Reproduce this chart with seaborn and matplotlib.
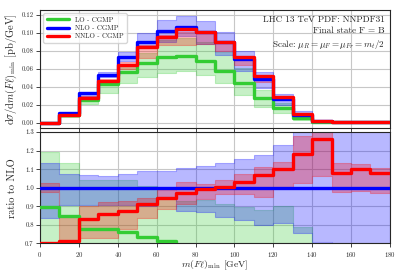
import numpy as np
import pandas as pd
import matplotlib
matplotlib.use("Agg")
import matplotlib.pyplot as plt
import seaborn as sns

# ---- data ----
bin_edges = [0, 10, 20, 30, 40, 50, 60, 70, 80, 90, 100, 110, 120, 130, 140, 150, 160, 170, 180]

lo_central = [0.0, 0.008, 0.025, 0.0428, 0.0558, 0.066, 0.0725, 0.0736, 0.0688, 0.0576, 0.0439, 0.0279, 0.0167, 0.0056, 0.0010, 0.0004, 0.0003, 0.0003]
nlo_central = [0.0, 0.0112, 0.0327, 0.0532, 0.0725, 0.0892, 0.1022, 0.1068, 0.1007, 0.0892, 0.0710, 0.0487, 0.0264, 0.0086, 0.0012, 0.0005, 0.0004, 0.0004]
nnlo_central = [0.0, 0.0086, 0.0279, 0.0465, 0.0643, 0.0836, 0.0955, 0.1043, 0.1012, 0.0895, 0.0725, 0.0515, 0.0283, 0.0100, 0.0015, 0.0006, 0.0005, 0.0005]

lo_band_lo = [0.0, 0.006, 0.0204, 0.0327, 0.044, 0.051, 0.055, 0.057, 0.053, 0.044, 0.031, 0.0178, 0.0104, 0.003, 0.0003, 0.0001, 0.0001, 0.0001]
lo_band_hi = [0.0, 0.010, 0.029, 0.0465, 0.064, 0.077, 0.092, 0.094, 0.090, 0.079, 0.0606, 0.0364, 0.0216, 0.008, 0.0012, 0.0004, 0.0004, 0.0004]
nlo_band_lo = [0.0, 0.009, 0.030, 0.051, 0.068, 0.083, 0.090, 0.096, 0.087, 0.0755, 0.057, 0.038, 0.0197, 0.0065, 0.0008, 0.0003, 0.0003, 0.0003]
nlo_band_hi = [0.0, 0.012, 0.034, 0.056, 0.079, 0.0996, 0.1145, 0.119, 0.113, 0.1007, 0.080, 0.0558, 0.0316, 0.0125, 0.0020, 0.0008, 0.0008, 0.0008]
nnlo_band_lo = [0.0, 0.0075, 0.026, 0.044, 0.060, 0.0717, 0.086, 0.0866, 0.088, 0.080, 0.064, 0.045, 0.025, 0.0085, 0.0013, 0.0004, 0.0004, 0.0004]
nnlo_band_hi = [0.0, 0.0085, 0.030, 0.049, 0.067, 0.0866, 0.098, 0.1007, 0.101, 0.091, 0.074, 0.052, 0.030, 0.011, 0.0017, 0.0006, 0.0006, 0.0006]

# ratio panel (to NLO)
lo_ratio = [0.895, 0.848, 0.780, 0.780, 0.762, 0.736, 0.712, 0.69, 0.68, 0.65, 0.62, 0.57, 0.63, 0.65, 0.6, 0.6, 0.6, 0.6]
nlo_ratio = [1.0] * 18
nnlo_ratio = [0.703, 0.712, 0.829, 0.857, 0.876, 0.912, 0.943, 0.969, 0.993, 1.006, 1.032, 1.068, 1.100, 1.184, 1.260, 1.078, 1.100, 1.077]

lo_rband_lo = [0.60, 0.60, 0.60, 0.60, 0.60, 0.60, 0.60, 0.60, 0.60, 0.60, 0.60, 0.60, 0.60, 0.60, 0.60, 0.60, 0.60, 0.60]
lo_rband_hi = [1.193, 1.132, 1.041, 1.040, 1.041, 1.010, 0.950, 0.930, 0.933, 0.911, 0.898, 0.880, 0.900, 0.790, 0.60, 0.60, 0.60, 0.60]
nlo_rband_lo = [0.838, 0.905, 0.905, 0.905, 0.905, 0.900, 0.950, 0.875, 0.867, 0.843, 0.825, 0.800, 0.810, 0.757, 0.705, 0.69, 0.69, 0.69]
nlo_rband_hi = [1.135, 1.072, 1.068, 1.063, 1.076, 1.090, 1.090, 1.108, 1.118, 1.133, 1.157, 1.178, 1.230, 1.35, 1.35, 1.35, 1.35, 1.35]
nnlo_rband_lo = [0.977, 0.60, 0.730, 0.730, 0.778, 0.838, 0.885, 0.910, 0.940, 0.965, 0.965, 0.950, 1.000, 1.025, 1.062, 0.978, 0.980, 0.972]
nnlo_rband_hi = [1.027, 0.843, 0.900, 0.922, 0.928, 0.946, 0.990, 1.030, 1.022, 1.040, 1.072, 1.112, 1.138, 1.280, 1.35, 1.132, 1.130, 1.108]

labels = ["LO - CGMP", "NLO - CGMP", "NNLO - CGMP"]
colors = ["#33cc33", "#0000ff", "#ff0000"]

# ---- style ----
sns.set_style("ticks")
plt.rcParams["font.family"] = ["cmr10", "DejaVu Serif"]
plt.rcParams["mathtext.fontset"] = "cm"
plt.rcParams["axes.formatter.use_mathtext"] = True
plt.rcParams["axes.unicode_minus"] = False


def stepify(vals):
    return list(vals) + [vals[-1]]


def step_frame(vals, name):
    return pd.DataFrame({"x": bin_edges, "y": stepify(vals), "series": name})


fig = plt.figure(figsize=(4.07, 2.71), dpi=100)
ax1 = fig.add_axes([0.0983, 0.5295, 0.8597, 0.4335])
ax2 = fig.add_axes([0.0983, 0.1020, 0.8597, 0.4110])

# ---- top panel ----
bands_top = [(lo_band_lo, lo_band_hi), (nlo_band_lo, nlo_band_hi), (nnlo_band_lo, nnlo_band_hi)]
for (blo, bhi), c in zip(bands_top, colors):
    ax1.fill_between(bin_edges, stepify(blo), stepify(bhi), step="post",
                     color=c, alpha=0.28, linewidth=0.8, zorder=2)

top_df = pd.concat([step_frame(lo_central, labels[0]),
                    step_frame(nlo_central, labels[1]),
                    step_frame(nnlo_central, labels[2])])
sns.lineplot(data=top_df, x="x", y="y", hue="series", palette=colors,
             hue_order=labels, drawstyle="steps-post", linewidth=2.4,
             ax=ax1, zorder=3, estimator=None, sort=False)

ax1.set_xlim(0, 180)
ax1.set_ylim(-0.0055, 0.1253)
ax1.set_xticks(range(0, 181, 20))
ax1.set_xticklabels([])
ax1.set_yticks([0.0, 0.02, 0.04, 0.06, 0.08, 0.10, 0.12])
ax1.set_yticklabels(["0.00", "0.02", "0.04", "0.06", "0.08", "0.10", "0.12"])
ax1.set_xlabel("")
ax1.set_ylabel(r"$\mathrm{d}\sigma/\mathrm{d}m(F\ell)_{\min}$ [pb/GeV]", fontsize=7.5, labelpad=2)
ax1.grid(True, color="0.78", linewidth=0.8)
leg = ax1.legend(loc="upper left", fontsize=5, handlelength=3.2, frameon=True,
                 borderpad=0.5, labelspacing=0.35, fancybox=True)
for h in leg.get_lines():
    h.set_linewidth(2.4)
ax1.text(0.985, 0.95, "LHC 13 TeV PDF: NNPDF31\nFinal state F = B\n"
         r"Scale: $\mu_R = \mu_F = \mu_{Fr} = m_t/2$",
         transform=ax1.transAxes, ha="right", va="top", fontsize=6.6,
         linespacing=1.35, color="0.15")

# ---- ratio panel ----
bands_rat = [(lo_rband_lo, lo_rband_hi), (nlo_rband_lo, nlo_rband_hi), (nnlo_rband_lo, nnlo_rband_hi)]
for (blo, bhi), c in zip(bands_rat, colors):
    ax2.fill_between(bin_edges, stepify(blo), stepify(bhi), step="post",
                     color=c, alpha=0.28, linewidth=0.8, zorder=2)

rat_df = pd.concat([step_frame(lo_ratio, labels[0]),
                    step_frame(nlo_ratio, labels[1]),
                    step_frame(nnlo_ratio, labels[2])])
sns.lineplot(data=rat_df, x="x", y="y", hue="series", palette=colors,
             hue_order=labels, drawstyle="steps-post", linewidth=2.4,
             ax=ax2, zorder=3, legend=False, estimator=None, sort=False)

ax2.set_xlim(0, 180)
ax2.set_ylim(0.7, 1.3)
ax2.set_xticks(range(0, 181, 20))
ax2.set_yticks([0.7, 0.8, 0.9, 1.0, 1.1, 1.2, 1.3])
ax2.set_yticklabels(["0.7", "0.8", "0.9", "1.0", "1.1", "1.2", "1.3"])
ax2.set_xlabel(r"$m(F\ell)_{\min}$ [GeV]", fontsize=7.0, labelpad=-0.3)
ax2.set_ylabel("ratio to NLO", fontsize=7.5, labelpad=6)
ax2.grid(True, color="0.78", linewidth=0.8)

for ax in (ax1, ax2):
    ax.tick_params(labelsize=4.8, length=3, width=0.6, pad=1.5)
    for s in ax.spines.values():
        s.set_color("0.15")
        s.set_linewidth(0.8)
    ax.set_axisbelow(True)

fig.savefig("out.png", dpi=100)
